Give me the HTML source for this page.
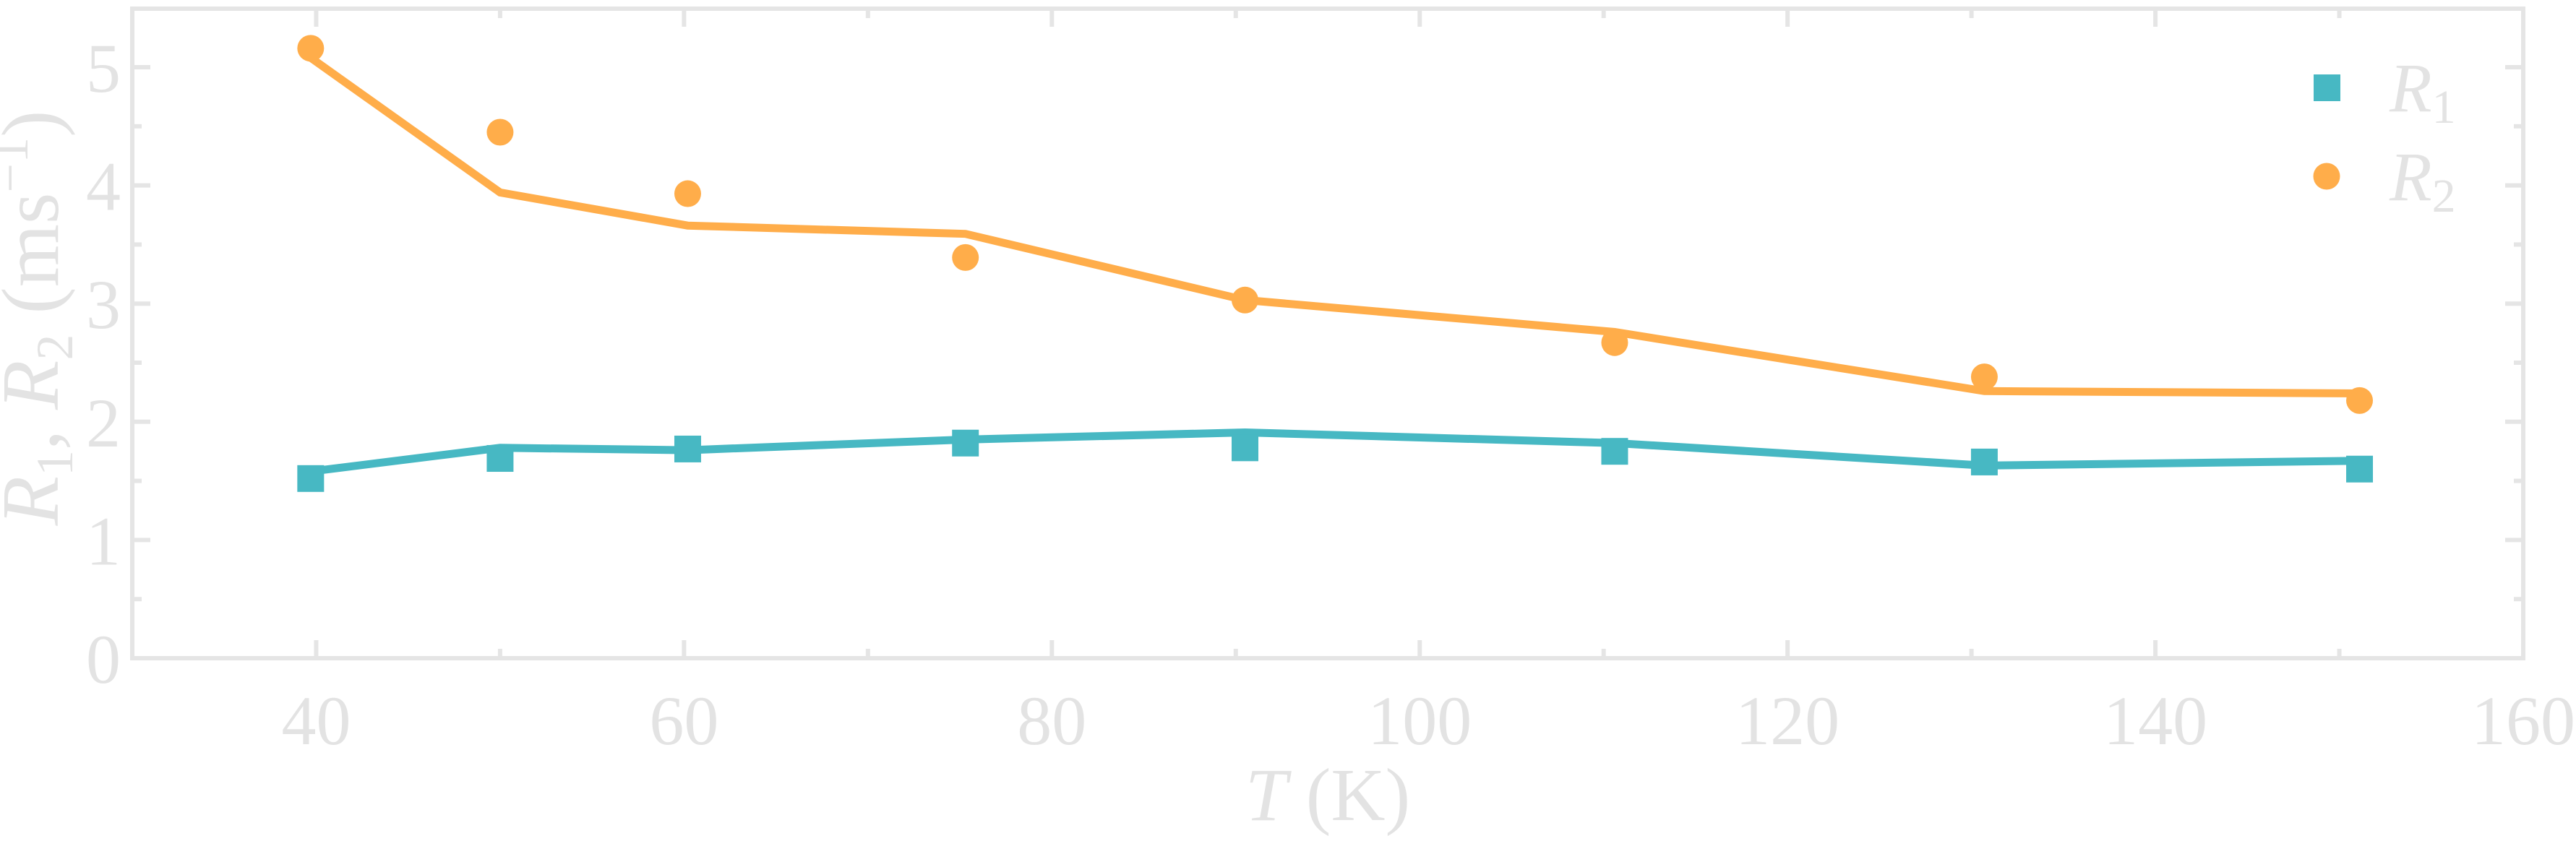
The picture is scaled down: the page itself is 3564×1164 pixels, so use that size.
<!DOCTYPE html>
<html><head><meta charset="utf-8"><style>
html,body{margin:0;padding:0;background:#fff;}
svg{display:block;}
text{font-family:"Liberation Serif",serif;fill:#e3e3e3;}
</style></head><body>
<svg id="chart" width="3564" height="1164" viewBox="0 0 3564 1164" xmlns="http://www.w3.org/2000/svg">
<g id="axes"></g>
<g id="series"></g>
<text x="1837" y="1135" font-size="104" text-anchor="middle"><tspan font-style="italic">T</tspan> (K)</text>
<text transform="translate(80,440) rotate(-90)" font-size="112" text-anchor="middle"><tspan font-style="italic">R</tspan><tspan font-size="72" dy="20">1</tspan><tspan dy="-20">, </tspan><tspan font-style="italic">R</tspan><tspan font-size="72" dy="20">2</tspan><tspan dy="-20"> (ms</tspan><tspan font-size="72" dy="-42">−1</tspan><tspan dy="42">)</tspan></text>
<g>
<rect x="3201" y="103" width="37" height="37" fill="#47b8c3"/>
<text x="3306" y="154" font-size="96"><tspan font-style="italic">R</tspan><tspan font-size="66" dy="16">1</tspan></text>
<circle cx="3219" cy="244" r="18.5" fill="#ffad4a"/>
<text x="3306" y="277" font-size="96"><tspan font-style="italic">R</tspan><tspan font-size="66" dy="16">2</tspan></text>
</g>
</svg>
<script>
const temps = [39.7, 50, 60.2, 75.3, 90.5, 110.6, 130.7, 151.1];
const r1Points = [1.52, 1.69, 1.77, 1.82, 1.78, 1.75, 1.66, 1.60];
const r1Fit = [1.58, 1.78, 1.76, 1.85, 1.91, 1.82, 1.63, 1.67];
const r2Points = [5.16, 4.45, 3.93, 3.39, 3.03, 2.67, 2.38, 2.18];
const r2Fit = [5.08, 3.94, 3.66, 3.59, 3.03, 2.76, 2.26, 2.24];
const xTicks = [40, 60, 80, 100, 120, 140, 160];
const xMinor = [50, 70, 90, 110, 130, 150];
const yTicks = [0, 1, 2, 3, 4, 5];
const yMinor = [0.5, 1.5, 2.5, 3.5, 4.5];

const L=183, R=3491, T=12, B=911;
const xMin=30, xMax=160, yMin=0, yMax=5.5;
function sx(v){return L+(v-xMin)/(xMax-xMin)*(R-L);}
function sy(v){return 911-(v-yMin)*163.6;}
const NS="http://www.w3.org/2000/svg";
function mk(tag, attrs, parent){const e=document.createElementNS(NS,tag);for(const k in attrs)e.setAttribute(k,attrs[k]);parent.appendChild(e);return e;}
const axes=document.getElementById('axes');
const ser=document.getElementById('series');
const AC="#e5e5e5";
let f=mk('rect',{x:L,y:T,width:R-L,height:B-T,fill:'none',stroke:AC,'stroke-width':6},axes);


xTicks.forEach(v=>{
  const x=sx(v);
  let t=mk('line',{x1:x,x2:x,y1:B,y2:B-25,stroke:AC,'stroke-width':6},axes);
  
  
  let t2=mk('line',{x1:x,x2:x,y1:T,y2:T+25,stroke:AC,'stroke-width':6},axes);
  
  
  let lb=mk('text',{x:x,y:1030,'font-size':96,'text-anchor':'middle'},axes);
  lb.textContent=v;
  
  
});
xMinor.forEach(v=>{
  const x=sx(v);
  let t=mk('line',{x1:x,x2:x,y1:B,y2:B-13,stroke:AC,'stroke-width':6},axes);
  
  
  let t2=mk('line',{x1:x,x2:x,y1:T,y2:T+13,stroke:AC,'stroke-width':6},axes);
  
  
});
yTicks.forEach(v=>{
  const y=sy(v);
  let t=mk('line',{x1:L,x2:L+25,y1:y,y2:y,stroke:AC,'stroke-width':6},axes);
  
  
  let t2=mk('line',{x1:R,x2:R-25,y1:y,y2:y,stroke:AC,'stroke-width':6},axes);
  
  
  let lb=mk('text',{x:167,y:y+34,'font-size':96,'text-anchor':'end'},axes);
  lb.textContent=v;
  
  
});
yMinor.forEach(v=>{
  const y=sy(v);
  let t=mk('line',{x1:L,x2:L+13,y1:y,y2:y,stroke:AC,'stroke-width':6},axes);
  
  
  let t2=mk('line',{x1:R,x2:R-13,y1:y,y2:y,stroke:AC,'stroke-width':6},axes);
  
  
});
function pts(arr){return temps.map((t,i)=>sx(t)+','+sy(arr[i])).join(' ');}
let l1=mk('polyline',{points:pts(r1Fit),fill:'none',stroke:'#47b8c3','stroke-width':11,'stroke-linejoin':'miter'},ser);


let l2=mk('polyline',{points:pts(r2Fit),fill:'none',stroke:'#ffad4a','stroke-width':11,'stroke-linejoin':'miter'},ser);


temps.forEach((t,i)=>{
  let s=mk('rect',{x:sx(t)-18.5,y:sy(r1Points[i])-18.5,width:37,height:37,fill:'#47b8c3'},ser);
  
  
  let c=mk('circle',{cx:sx(t),cy:sy(r2Points[i]),r:18.5,fill:'#ffad4a'},ser);
  
  
});
</script>
</body></html>
